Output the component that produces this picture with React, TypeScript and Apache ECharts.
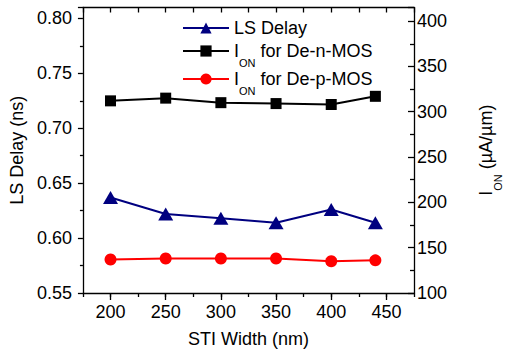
import React, { useEffect, useRef } from 'react';
import * as echarts from 'echarts';

const stiWidth = [200, 250, 300, 350, 400, 440];
const lsDelay = [0.637, 0.622, 0.618, 0.614, 0.626, 0.614];
const ionN = [312, 315, 310, 309, 308, 317];
const ionP = [137, 138, 138, 138, 135, 136];
const xTickCats = ['175', '200', '225', '250', '275', '300', '325', '350', '375', '400', '425', '450', '475'];
const seriesNames = ['LS Delay', 'ION for De-n-MOS', 'ION for De-p-MOS'];

const FONT = 'Liberation Sans, Arial, sans-serif';
const rich = {
  i: { fontSize: 18, lineHeight: 34, fontFamily: FONT, color: '#000', verticalAlign: 'middle' },
  sub: { fontSize: 11, lineHeight: 12, fontFamily: FONT, color: '#000', verticalAlign: 'bottom' },
  t: { fontSize: 18, lineHeight: 34, fontFamily: FONT, color: '#000', verticalAlign: 'middle' },
};

export default function App() {
  const ref = useRef<HTMLDivElement>(null);
  useEffect(() => {
    const chart = echarts.init(ref.current!, undefined, { renderer: 'svg' });
    const axisLine = { show: true, lineStyle: { color: '#000', width: 1.3 } };
    const legendFmt = (name: string) =>
      name === 'LS Delay' ? `{t|${name}}` : `{i|I}{sub|ON}{t|${name.slice(3)}}`;
    const legendBase = {
      orient: 'vertical',
      left: 177,
      itemWidth: 46,
      itemHeight: 14,
      itemGap: 0,
      formatter: legendFmt,
      textStyle: { rich, fontSize: 18, fontFamily: FONT, color: '#000' },
    };
    chart.setOption({
      animation: false,
      grid: { left: 82.5, right: 67.5, top: 7.5, bottom: 60, containLabel: false },
      legend: [
        { ...legendBase, top: 14, data: [seriesNames[0]] },
        { ...legendBase, top: 37, data: [seriesNames[1]] },
        { ...legendBase, top: 65, data: [seriesNames[2]] },
      ],
      xAxis: [
        {
          type: 'value', position: 'bottom', min: 175, max: 475, interval: 25,
          axisLine, axisTick: { show: true, length: 4, lineStyle: { color: '#000', width: 1.3 } },
          axisLabel: { show: false }, splitLine: { show: false },
        },
        {
          type: 'category', position: 'bottom', data: xTickCats, boundaryGap: false,
          axisLine: { show: false },
          axisTick: { show: true, length: 7, interval: (i: number) => i % 2 === 1, lineStyle: { color: '#000', width: 1.3 } },
          axisLabel: { interval: (i: number) => i % 2 === 1, fontSize: 18, fontFamily: FONT, color: '#000', margin: 10 },
          name: 'STI Width (nm)', nameLocation: 'middle', nameGap: 37,
          nameTextStyle: { fontSize: 18, fontFamily: FONT, color: '#000' },
        },
        {
          type: 'value', position: 'top', min: 175, max: 475, interval: 25,
          axisLine, axisTick: { show: true, inside: true, length: 5, lineStyle: { color: '#000', width: 1.3 } },
          axisLabel: { show: false }, splitLine: { show: false },
        },
      ],
      yAxis: [
        {
          type: 'value', position: 'left', min: 0.55, max: 0.81, interval: 0.05,
          axisLine, axisTick: { show: true, length: 5, lineStyle: { color: '#000', width: 1.3 } },
          minorTick: { show: true, splitNumber: 2, length: 3, lineStyle: { color: '#000', width: 1.3 } },
          axisLabel: { fontSize: 18, fontFamily: FONT, color: '#000', margin: 11, showMaxLabel: false, formatter: (v: number) => v.toFixed(2) },
          splitLine: { show: false },
          name: 'LS Delay (ns)', nameLocation: 'middle', nameGap: 51,
          nameTextStyle: { fontSize: 18, fontFamily: FONT, color: '#000' },
        },
        {
          type: 'value', position: 'right', min: 100, max: 415, interval: 50,
          axisLine, axisTick: { show: true, inside: true, length: 6, lineStyle: { color: '#000', width: 1.3 } },
          minorTick: { show: true, splitNumber: 2, length: 4, lineStyle: { color: '#000', width: 1.3 } },
          axisLabel: { fontSize: 18, fontFamily: FONT, color: '#000', margin: 3, showMaxLabel: false },
          splitLine: { show: false },
          name: '{i|I}{sub|ON}{t| (µA/µm)}', nameLocation: 'middle', nameGap: 55,
          nameTextStyle: { rich, fontSize: 18, fontFamily: FONT, color: '#000' },
        },
      ],
      series: [
        {
          name: seriesNames[0], type: 'line', xAxisIndex: 0, yAxisIndex: 0,
          data: stiWidth.map((x, i) => [x, lsDelay[i]]),
          symbol: 'triangle', symbolSize: [15, 13],
          itemStyle: { color: '#000080' }, lineStyle: { color: '#000080', width: 2 },
        },
        {
          name: seriesNames[1], type: 'line', xAxisIndex: 0, yAxisIndex: 1,
          data: stiWidth.map((x, i) => [x, ionN[i]]),
          symbol: 'rect', symbolSize: 11,
          itemStyle: { color: '#000' }, lineStyle: { color: '#000', width: 2 },
        },
        {
          name: seriesNames[2], type: 'line', xAxisIndex: 0, yAxisIndex: 1,
          data: stiWidth.map((x, i) => [x, ionP[i]]),
          symbol: 'circle', symbolSize: 12,
          itemStyle: { color: '#ff0000' }, lineStyle: { color: '#ff0000', width: 2 },
        },
      ],
    });
    return () => chart.dispose();
  }, []);
  return <div ref={ref} style={{ position: 'fixed', left: 0, top: 0, width: 511, height: 353, background: '#fff' }} />;
}
